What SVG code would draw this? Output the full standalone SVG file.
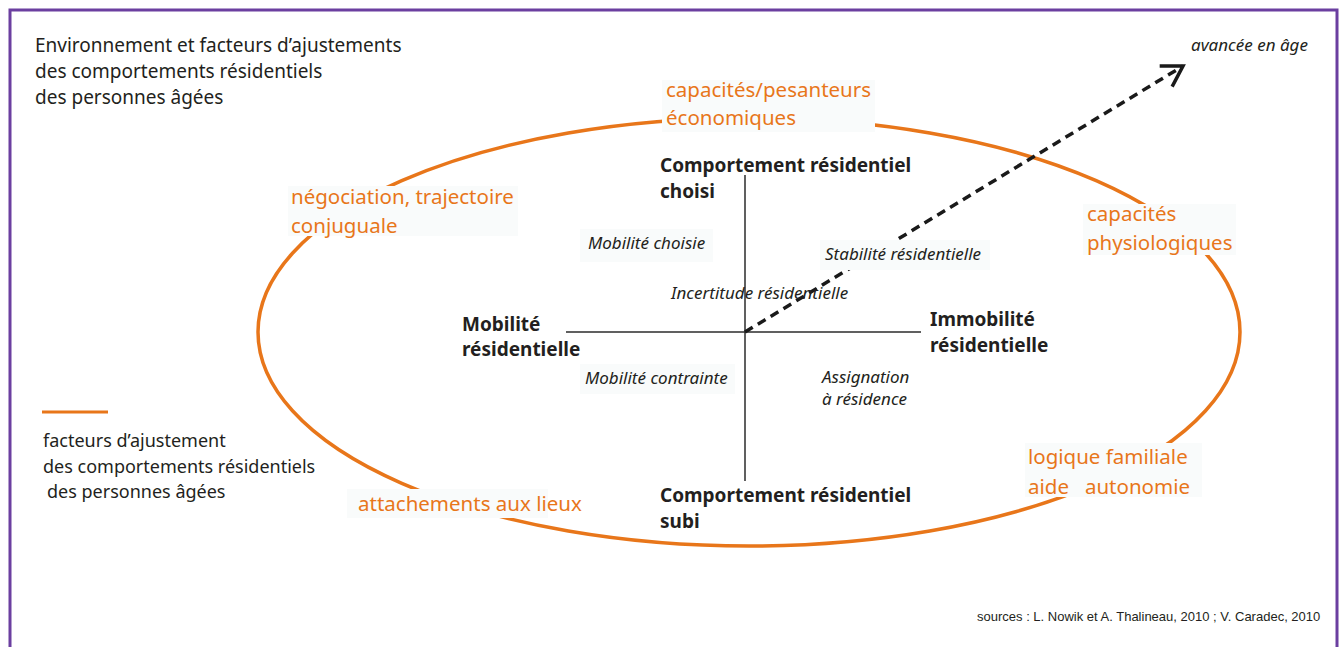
<svg xmlns="http://www.w3.org/2000/svg" width="1340" height="647" viewBox="0 0 1340 647">
  <defs>
    <style>
      .frame { fill: #ffffff; stroke: #6b3fa0; stroke-width: 3; }
      .ring { fill: none; stroke: #e8761a; stroke-width: 3.5; }
      .axis { stroke: #2b2b2b; stroke-width: 1.5; fill: none; }
      .plate { fill: #f9fbfb; }
      .dark { font-family: "Noto Sans", "Open Sans", sans-serif; font-size: 19px; fill: #231f20; }
      .legend-text { font-family: "Noto Sans", "Open Sans", sans-serif; font-size: 18px; fill: #231f20; }
      .factor { font-family: "Noto Sans", "Open Sans", sans-serif; font-size: 20.5px; fill: #e8761a; }
      .pole { font-family: "Noto Sans", "Open Sans", sans-serif; font-size: 19px; font-weight: bold; fill: #231f20; }
      .zone { font-family: "Noto Sans", "Open Sans", sans-serif; font-size: 17px; font-style: italic; fill: #231f20; }
      .src { font-family: "Liberation Sans", Arial, sans-serif; font-size: 13px; fill: #231f20; }
      .age { stroke: #1a1a1a; stroke-width: 3.5; stroke-dasharray: 9 6; fill: none; }
    </style>
    <marker id="chevron" markerUnits="userSpaceOnUse" markerWidth="30" markerHeight="30" refX="0" refY="0" viewBox="-25 -15 30 30" orient="auto" overflow="visible">
      <path d="M -20,-12 L 0,0 L -20,12" fill="none" stroke="#1a1a1a" stroke-width="3.5" stroke-linejoin="miter"/>
    </marker>
  </defs>

  <!-- outer frame -->
  <rect class="frame" x="10" y="10" width="1327" height="660"/>

  <!-- title -->
  <g id="title">
    <text class="dark" x="35" y="52">Environnement et facteurs d’ajustements</text>
    <text class="dark" x="35" y="78">des comportements résidentiels</text>
    <text class="dark" x="35" y="104">des personnes âgées</text>
  </g>

  <!-- ring of adjustment factors -->
  <g id="ring">
    <ellipse class="ring" cx="749" cy="332" rx="491" ry="214"/>
  </g>

  <!-- connectors: axes and ageing arrow -->
  <g id="connectors">
    <line class="axis" x1="745" y1="175" x2="745" y2="481"/>
    <line class="axis" x1="566" y1="332" x2="921" y2="332"/>
    <line class="age" x1="745" y1="332" x2="1183" y2="66" marker-end="url(#chevron)"/>
  </g>

  <g id="age-label">
    <text class="zone" x="1191" y="51">avancée en âge</text>
  </g>

  <!-- poles of the axes -->
  <g id="pole-chosen">
    <text class="pole" x="660" y="172">Comportement résidentiel</text>
    <text class="pole" x="660" y="198">choisi</text>
  </g>
  <g id="pole-endured">
    <text class="pole" x="660" y="502">Comportement résidentiel</text>
    <text class="pole" x="660" y="528">subi</text>
  </g>
  <g id="pole-mobility">
    <text class="pole" x="462" y="331">Mobilité</text>
    <text class="pole" x="462" y="356">résidentielle</text>
  </g>
  <g id="pole-immobility">
    <text class="pole" x="930" y="326">Immobilité</text>
    <text class="pole" x="930" y="352">résidentielle</text>
  </g>

  <!-- quadrant labels -->
  <g id="zone-chosen-mobility">
    <rect class="plate" x="580" y="229" width="133" height="33"/>
    <text class="zone" x="588" y="249">Mobilité choisie</text>
  </g>
  <g id="zone-stability">
    <rect class="plate" x="820" y="240" width="170" height="30"/>
    <text class="zone" x="825" y="260">Stabilité résidentielle</text>
  </g>
  <g id="zone-uncertainty">
    <text class="zone" x="671" y="299">Incertitude résidentielle</text>
  </g>
  <g id="zone-constrained">
    <rect class="plate" x="580" y="364" width="155" height="30"/>
    <text class="zone" x="585" y="384">Mobilité contrainte</text>
  </g>
  <g id="zone-assignment">
    <text class="zone" x="822" y="383">Assignation</text>
    <text class="zone" x="822" y="405">à résidence</text>
  </g>

  <!-- factors sitting on the ring -->
  <g id="factor-economic">
    <rect class="plate" x="662" y="80" width="213" height="52"/>
    <text class="factor" x="666" y="97">capacités/pesanteurs</text>
    <text class="factor" x="666" y="125">économiques</text>
  </g>
  <g id="factor-conjugal">
    <rect class="plate" x="288" y="186" width="230" height="50"/>
    <text class="factor" x="291" y="204">négociation, trajectoire</text>
    <text class="factor" x="291" y="233">conjuguale</text>
  </g>
  <g id="factor-physiological">
    <rect class="plate" x="1083" y="204" width="153" height="51"/>
    <text class="factor" x="1087" y="221">capacités</text>
    <text class="factor" x="1087" y="250">physiologiques</text>
  </g>
  <g id="factor-family">
    <rect class="plate" x="1025" y="443" width="177" height="54"/>
    <text class="factor" x="1028" y="464">logique familiale</text>
    <text class="factor" x="1028" y="494" xml:space="preserve">aide   autonomie</text>
  </g>
  <g id="factor-places">
    <rect class="plate" x="347" y="489" width="201" height="29"/>
    <text class="factor" x="358" y="511">attachements aux lieux</text>
  </g>

  <!-- legend -->
  <g id="legend">
    <line x1="42" y1="412" x2="108" y2="412" stroke="#e8761a" stroke-width="3"/>
    <text class="legend-text" x="43" y="447">facteurs d’ajustement</text>
    <text class="legend-text" x="43" y="473">des comportements résidentiels</text>
    <text class="legend-text" x="47" y="498">des personnes âgées</text>
  </g>

  <g id="sources">
    <text class="src" x="977" y="621">sources : L. Nowik et A. Thalineau, 2010 ; V. Caradec, 2010</text>
  </g>
</svg>
